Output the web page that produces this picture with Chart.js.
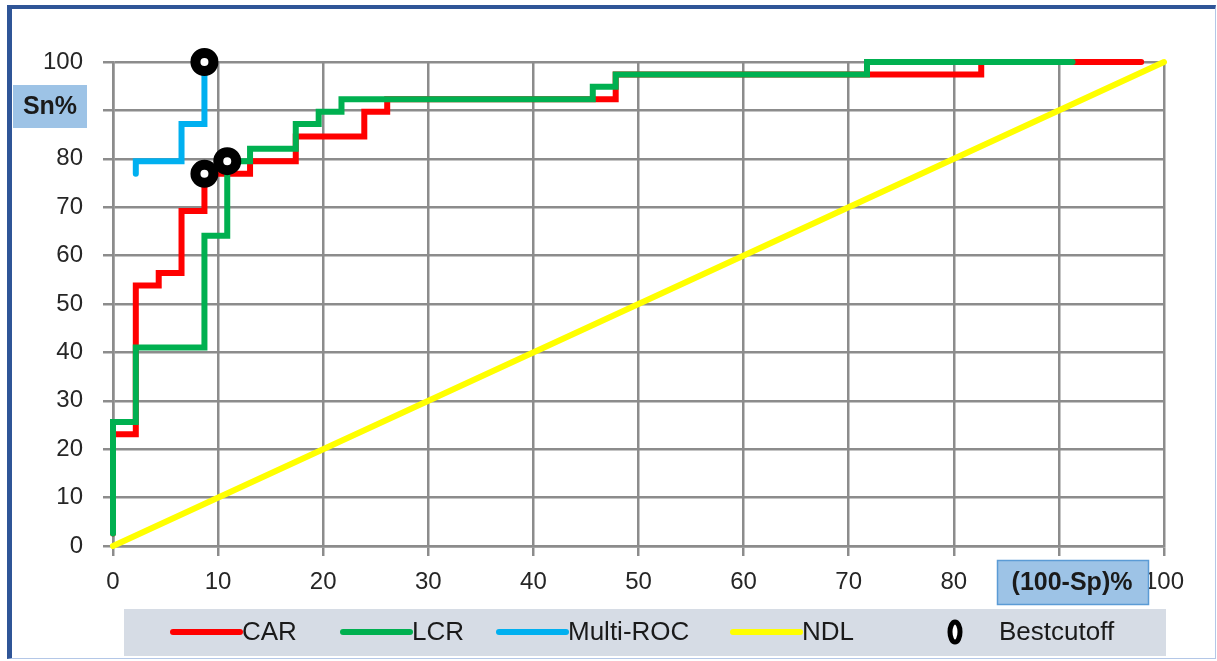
<!DOCTYPE html>
<html>
<head>
<meta charset="utf-8">
<script src="https://cdn.jsdelivr.net/npm/chart.js@4/dist/chart.umd.min.js"></script>
<style>
  html, body { margin: 0; padding: 0; background: #fff; }
  .wrap { position: relative; width: 1217px; height: 661px; }
  .frame {
    position: absolute; left: 7px; top: 5px; width: 1203px; height: 649px;
    border-left: 5px solid #2f5597; border-top: 4px solid #2f5597;
    border-right: 1px solid #b4c7e7; border-bottom: 1px solid #b4c7e7;
    pointer-events: none;
  }
  canvas { position: absolute; left: 0; top: 0; }
</style>
</head>
<body>
<div class="wrap">
  <canvas id="roc" width="1217" height="661"></canvas>
  <div class="frame"></div>
</div>
<script>
// ROC vertices: (100-Sp)% on x, Sn% on y
const carX = [0, 0, 2.17, 2.17, 4.35, 4.35, 6.52, 6.52, 8.7, 8.7, 13.04, 13.04, 17.39, 17.39, 23.91, 23.91, 26.09, 26.09, 47.83, 47.83, 82.61, 82.61, 97.83];
const carY = [2.6, 23.1, 23.1, 53.8, 53.8, 56.4, 56.4, 69.2, 69.2, 76.9, 76.9, 79.5, 79.5, 84.6, 84.6, 89.7, 89.7, 92.3, 92.3, 97.4, 97.4, 100, 100];

const lcrX = [0, 0, 2.17, 2.17, 8.7, 8.7, 10.87, 10.87, 13.04, 13.04, 17.39, 17.39, 19.57, 19.57, 21.74, 21.74, 45.65, 45.65, 47.83, 47.83, 71.74, 71.74, 91.3];
const lcrY = [2.6, 25.6, 25.6, 41, 41, 64.1, 64.1, 79.5, 79.5, 82.1, 82.1, 87.2, 87.2, 89.7, 89.7, 92.3, 92.3, 94.9, 94.9, 97.4, 97.4, 100, 100];

const multiX = [2.17, 2.17, 6.52, 6.52, 8.7, 8.7];
const multiY = [76.9, 79.5, 79.5, 87.2, 87.2, 100];

const ndlX = [0, 100];
const ndlY = [0, 100];

const cutX = [8.7, 8.7, 10.87];
const cutY = [100, 76.9, 79.5];

const xTicks = [0, 10, 20, 30, 40, 50, 60, 70, 80, 90, 100];
const yTicks = [0, 10, 20, 30, 40, 50, 60, 70, 80, 90, 100];

const legendLabels = ['CAR', 'LCR', 'Multi-ROC', 'NDL', 'Bestcutoff'];

const pts = (xs, ys) => xs.map((x, i) => ({ x: x, y: ys[i] }));
const gridColor = '#8c8c8c';
const font = 'Liberation Sans';

const lineSet = (label, xs, ys, color, order) => ({
  label: label,
  data: pts(xs, ys),
  showLine: true,
  borderColor: color,
  backgroundColor: color,
  borderWidth: 6,
  borderCapStyle: 'round',
  pointRadius: 0,
  pointHoverRadius: 0,
  clip: false,
  order: order
});

// grey legend strip and the two axis title boxes
const decor = {
  id: 'decor',
  afterDraw(chart) {
    const ctx = chart.ctx;
    const ds = chart.data.datasets;
    ctx.save();

    // axis title boxes
    ctx.fillStyle = '#9dc3e6';
    ctx.fillRect(13, 85, 74, 43);
    ctx.fillRect(997, 560, 152, 45);
    ctx.strokeStyle = '#5b9bd5';
    ctx.lineWidth = 1.5;
    ctx.strokeRect(997.5, 560.5, 151, 44);
    ctx.fillStyle = '#1a1a1a';
    ctx.font = 'bold 25px "' + font + '"';
    ctx.textAlign = 'center';
    ctx.textBaseline = 'middle';
    ctx.fillText('Sn%', 50, 107);
    ctx.fillText('(100-Sp)%', 1072, 583);

    // legend
    ctx.fillStyle = '#d6dce5';
    ctx.fillRect(124, 609, 1042, 47);
    const cy = 632;
    const lineStarts = [173, 343, 499, 733];
    ctx.font = '26px "' + font + '"';
    ctx.textAlign = 'left';
    ctx.lineCap = 'round';
    for (let i = 0; i < 4; i++) {
      const d = ds.find(s => s.label === legendLabels[i]);
      ctx.strokeStyle = d.borderColor;
      ctx.lineWidth = 6;
      ctx.beginPath();
      ctx.moveTo(lineStarts[i], cy);
      ctx.lineTo(lineStarts[i] + 67, cy);
      ctx.stroke();
      ctx.fillStyle = '#1a1a1a';
      ctx.fillText(legendLabels[i], lineStarts[i] + 69, cy + 1);
    }
    ctx.strokeStyle = '#000';
    ctx.fillStyle = '#fff';
    ctx.lineWidth = 5;
    ctx.beginPath();
    ctx.ellipse(955, cy, 5, 10, 0, 0, Math.PI * 2);
    ctx.fill();
    ctx.stroke();
    ctx.fillStyle = '#1a1a1a';
    ctx.fillText(legendLabels[4], 999, cy + 1);
    ctx.restore();
  }
};

new Chart(document.getElementById('roc').getContext('2d'), {
  type: 'scatter',
  data: {
    datasets: [
      {
        label: 'Bestcutoff',
        data: pts(cutX, cutY),
        showLine: false,
        pointStyle: 'circle',
        pointRadius: 9,
        pointHoverRadius: 9,
        pointBorderWidth: 10,
        borderColor: '#000',
        backgroundColor: '#fff',
        clip: false,
        order: 0
      },
      lineSet('LCR', lcrX, lcrY, '#00b050', 1),
      lineSet('CAR', carX, carY, '#ff0000', 2),
      lineSet('Multi-ROC', multiX, multiY, '#00b0f0', 3),
      lineSet('NDL', ndlX, ndlY, '#ffff00', 4)
    ]
  },
  options: {
    responsive: false,
    animation: false,
    events: [],
    layout: { padding: { top: 62, right: 53, left: 0, bottom: 0 } },
    scales: {
      x: {
        type: 'linear',
        min: 0,
        max: 100,
        afterFit: s => { s.height = 115; },
        afterBuildTicks: s => { s.ticks = xTicks.map(v => ({ value: v })); },
        grid: { color: gridColor, lineWidth: 2.5, tickLength: 10, tickColor: gridColor },
        border: { color: gridColor, width: 2.5 },
        ticks: { color: '#262626', padding: 12, font: { family: font, size: 24 }, maxRotation: 0 }
      },
      y: {
        type: 'linear',
        min: 0,
        max: 100,
        afterFit: s => { s.width = 113; },
        afterBuildTicks: s => { s.ticks = yTicks.map(v => ({ value: v })); },
        grid: { color: gridColor, lineWidth: 2.5, tickLength: 10, tickColor: gridColor },
        border: { color: gridColor, width: 2.5 },
        ticks: { color: '#262626', padding: 20, font: { family: font, size: 24 } }
      }
    },
    plugins: {
      legend: { display: false },
      tooltip: { enabled: false }
    }
  },
  plugins: [decor]
});
</script>
</body>
</html>
